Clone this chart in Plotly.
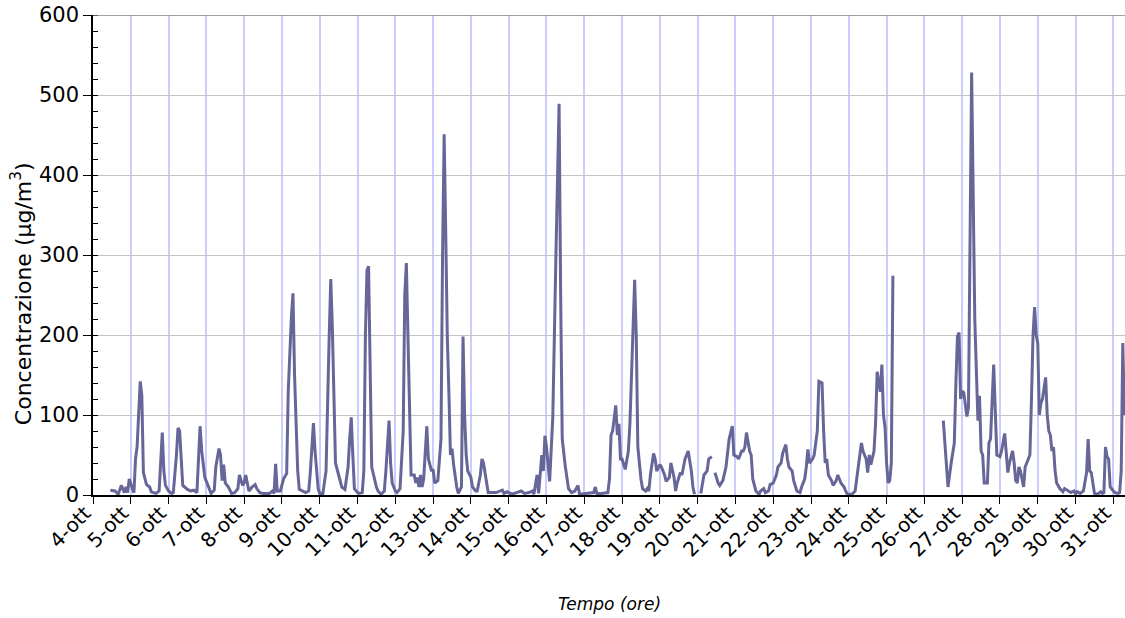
import plotly.graph_objects as go

giorni = ["4-ott", "5-ott", "6-ott", "7-ott", "8-ott", "9-ott", "10-ott", "11-ott",
          "12-ott", "13-ott", "14-ott", "15-ott", "16-ott", "17-ott", "18-ott", "19-ott",
          "20-ott", "21-ott", "22-ott", "23-ott", "24-ott", "25-ott", "26-ott", "27-ott",
          "28-ott", "29-ott", "30-ott", "31-ott"]

# (ore dall'inizio del 4-ott, concentrazione µg/m3)
blocco_1 = [(11, 6), (14, 5), (16, 1), (18, 12), (20, 3), (21, 10), (22, 3), (23, 20), (25, 8), (26, 3),
            (27, 45), (28, 60), (30, 142), (31, 125), (32, 28), (34, 13), (36, 10), (37, 4), (40, 2),
            (42, 5), (44, 78), (45, 30), (46, 12), (48, 5), (50, 2), (51, 3), (53, 50), (54, 84),
            (55, 80), (57, 12), (60, 7), (62, 5), (64, 6), (66, 3), (68, 86), (69, 56), (71, 22)]
blocco_2 = [(73, 12), (75, 2), (77, 6), (78, 35), (80, 58), (81, 50), (82, 18), (83, 38), (84, 15),
            (86, 10), (88, 2), (90, 3), (92, 8), (93, 25), (95, 12), (96, 15), (97, 25), (99, 5),
            (101, 10), (103, 13), (104, 8), (106, 3), (108, 2), (112, 2), (114, 5), (115, 2),
            (116, 39), (117, 5), (119, 5), (121, 20), (123, 27), (124, 130), (126, 222), (127, 252),
            (128, 150), (130, 30), (131, 7), (133, 5), (135, 3), (137, 5), (138, 28), (140, 90),
            (141, 55), (143, 8)]
blocco_3 = [(144, 2), (146, 2), (148, 30), (150, 198), (151, 270), (152, 210), (154, 40), (156, 25),
            (158, 10), (160, 7), (162, 35), (163, 70), (164, 97), (165, 50), (166, 8), (168, 3),
            (169, 2), (171, 3), (172, 30), (173, 200), (174, 281), (175, 286), (176, 140), (177, 35),
            (180, 10), (181, 5), (183, 1), (185, 5), (186, 30), (188, 93), (189, 40), (190, 15),
            (192, 5), (193, 3), (195, 8), (197, 80), (198, 250), (199, 290), (200, 200), (202, 25),
            (204, 25), (205, 15), (206, 22), (207, 10), (208, 25), (209, 10), (210, 20), (212, 86),
            (213, 45), (215, 30)]
blocco_4 = [(216, 32), (217, 15), (219, 18), (221, 70), (222, 300), (223, 451), (224, 330), (225, 198),
            (226, 130), (227, 50), (228, 58), (229, 38), (231, 10), (232, 2), (234, 10), (235, 198),
            (236, 100), (237, 50), (238, 30), (240, 22), (241, 10), (243, 5), (244, 5), (246, 25),
            (247, 45), (248, 40), (250, 15), (251, 3), (253, 3), (256, 3), (260, 6), (261, 2),
            (263, 4), (266, 1), (269, 3), (272, 5), (274, 2), (277, 3), (279, 5), (280, 1),
            (282, 25), (283, 2), (285, 50), (286, 30), (287, 74)]
blocco_5 = [(288, 60), (290, 17), (291, 60), (292, 97), (294, 300), (296, 489), (297, 250), (298, 70),
            (300, 35), (302, 8), (304, 3), (306, 5), (308, 12), (309, 1), (313, 2), (317, 3),
            (318, 3), (319, 10), (320, 2), (323, 2), (327, 3), (328, 20), (329, 75), (330, 80),
            (332, 112), (333, 75), (334, 89), (335, 45), (336, 45), (338, 32), (340, 55), (341, 90),
            (342, 150), (344, 269), (345, 200), (346, 60), (348, 20), (349, 8), (351, 5), (352, 8),
            (353, 5), (354, 25), (356, 52), (357, 45), (358, 30)]
blocco_6 = [(360, 38), (361, 35), (363, 25), (364, 17), (366, 22), (367, 40), (369, 22), (370, 5),
            (371, 15), (373, 28), (374, 25), (375, 35), (376, 45), (378, 55), (380, 30), (381, 10),
            (382, 1)]
blocco_7 = [(386, 2), (388, 25), (390, 30), (391, 45), (393, 48)]
blocco_8 = [(395, 28), (397, 15), (398, 12), (400, 18), (402, 35), (403, 55), (404, 70), (406, 86),
            (407, 50), (409, 48), (410, 45), (412, 55), (413, 55), (414, 60), (415, 78), (417, 55),
            (418, 50), (419, 20), (421, 5), (423, 1), (424, 5), (426, 8), (427, 3), (429, 5),
            (430, 13), (432, 15), (434, 25), (435, 35), (437, 40), (438, 52), (440, 63), (441, 45),
            (442, 35), (444, 30), (445, 18), (447, 5), (449, 3), (450, 10), (452, 20), (453, 35),
            (454, 57), (455, 40), (457, 45), (458, 50), (460, 80), (461, 142), (463, 140), (464, 80),
            (465, 40), (466, 45), (467, 25)]
blocco_9 = [(469, 18), (470, 12), (472, 18), (473, 25), (475, 15), (477, 10), (478, 5), (479, 1),
            (482, 1), (484, 5), (485, 20), (487, 50), (488, 65), (489, 55), (490, 50), (491, 45),
            (492, 28), (493, 50), (494, 38), (496, 55), (497, 90), (498, 154), (500, 129), (501, 163),
            (502, 100), (503, 85), (504, 40), (505, 15), (506, 18), (507, 40), (508, 274)]
blocco_10 = [(540, 93), (542, 45), (543, 10), (545, 40), (547, 65), (548, 140), (549, 198), (550, 203),
             (551, 120), (552, 130), (553, 128), (555, 98), (556, 110), (558, 528), (559, 380),
             (560, 220), (562, 93), (563, 124), (564, 55), (565, 50), (566, 15), (568, 15), (569, 65),
             (570, 70), (572, 163), (573, 100), (574, 50), (576, 48), (577, 55), (579, 77), (580, 45),
             (581, 28), (582, 40), (584, 55), (585, 40), (586, 18), (587, 15), (588, 35), (589, 30),
             (591, 10), (592, 35), (593, 40), (595, 50)]
blocco_11 = [(596, 120), (597, 200), (598, 235), (599, 200), (600, 190), (601, 100), (602, 115),
             (603, 120), (605, 147), (606, 100), (607, 80), (608, 75), (609, 55), (610, 60), (611, 30),
             (612, 15), (614, 8), (616, 4), (617, 8), (619, 5), (621, 3), (623, 5), (624, 1), (625, 4),
             (627, 2), (629, 5), (630, 15), (631, 28), (632, 70), (633, 30), (634, 28), (635, 15),
             (636, 2), (638, 1), (640, 4), (641, 2), (642, 3), (643, 60), (644, 48), (645, 45),
             (646, 10), (648, 5), (649, 3), (651, 2), (652, 3), (653, 30), (654, 190), (655, 100)]

# tratti continui (dati mancanti tra un tratto e l'altro)
tratti = [
    blocco_1 + blocco_2 + blocco_3 + blocco_4 + blocco_5 + blocco_6,
    blocco_7,
    blocco_8 + blocco_9,
    blocco_10 + blocco_11,
]

xs, ys = [], []
for i, tr in enumerate(tratti):
    if i:
        xs.append(None)
        ys.append(None)
    xs += [p[0] for p in tr]
    ys += [p[1] for p in tr]

fig = go.Figure()
fig.add_trace(go.Scatter(x=xs, y=ys, mode="lines", connectgaps=False,
                         line=dict(color="#666699", width=3), hoverinfo="skip"))

font = "DejaVu Sans, Verdana, sans-serif"
fig.update_layout(
    width=1125, height=618,
    margin=dict(l=93, r=0, t=15, b=123),
    plot_bgcolor="white", paper_bgcolor="white",
    showlegend=False,
    xaxis=dict(
        range=[0, 655.4],
        tickvals=[24 * i for i in range(len(giorni))],
        ticktext=giorni,
        tickangle=-45,
        automargin=False,
        ticklabelshift=-8,
        ticklabelstandoff=-10,
        ticklabeloverflow="allow",
        ticks="outside", ticklen=7, tickcolor="black", tickwidth=1.2,
        showline=True, linecolor="black", linewidth=1.5,
        showgrid=True, gridcolor="#ccccff", gridwidth=1.5,
        zeroline=False,
        tickfont=dict(family=font, size=20, color="black"),
    ),
    yaxis=dict(
        range=[0, 600],
        tickvals=[0, 100, 200, 300, 400, 500, 600],
        automargin=False,
        ticklabeloverflow="allow",
        ticks="outside", ticklen=8, tickcolor="black", tickwidth=1.2,
        minor=dict(dtick=20, ticks="inside", ticklen=5, tickcolor="black", showgrid=False),
        showline=True, linecolor="black", linewidth=1.5,
        showgrid=True, gridcolor="#c4c4c4", gridwidth=1,
        zeroline=False,
        tickfont=dict(family=font, size=21, color="black"),
    ),
    shapes=[dict(type="line", xref="paper", yref="y", x0=0, x1=1, y0=600, y1=600,
                 line=dict(color="#808080", width=1.5))],
    annotations=[
        dict(text="Concentrazione (µg/m<sup>3</sup>)", textangle=-90, xref="paper", yref="paper",
             x=-0.069, y=0.42, xanchor="center", yanchor="middle", showarrow=False,
             font=dict(family=font, size=22, color="black")),
        dict(text="<i>Tempo (ore)</i>", xref="paper", yref="paper",
             x=0.5, y=-0.227, xanchor="center", yanchor="middle", showarrow=False,
             font=dict(family=font, size=17, color="black")),
    ],
)

# remove the default 8px page margin so the figure fills the 1125x618 window exactly
fig.write_html("out.html", config={"displayModeBar": False},
               post_script="document.body.style.margin='0';")
